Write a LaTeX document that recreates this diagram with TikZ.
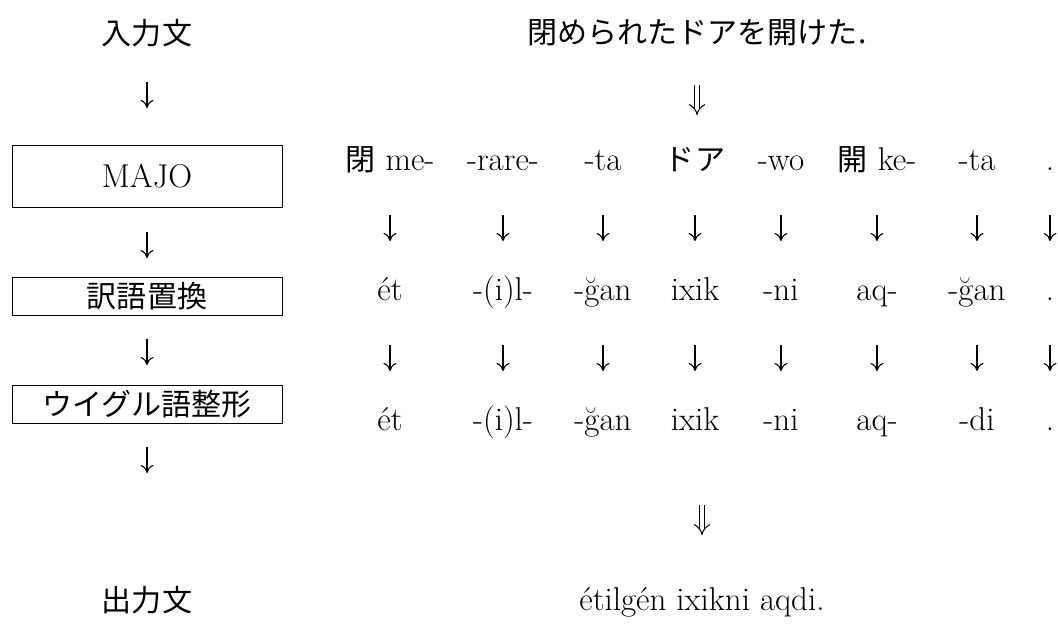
\documentclass[tikz,border=0pt]{standalone}
\usepackage{fontspec}
\newfontfamily\jpfont[Scale=0.91]{Noto Sans CJK JP}
\usetikzlibrary{arrows.meta}

\begin{document}
\begin{tikzpicture}
[
    x=0.5pt, y=-0.5pt,
    every node/.style={font=\fontsize{16.5}{19}\selectfont, inner sep=0pt},
    tok/.style={text height=11pt, text depth=3.5pt},
    stage/.style={draw, line width=0.5pt, minimum width=135pt},
    down/.style={line width=0.55pt, -{To[length=4pt, width=6.5pt]}},
    bigdown/.style={double, double distance=2.4pt, line width=0.5pt, -{Implies}},
]
\useasboundingbox (0,0) rectangle (1058,627);

\node (in) at (147,33) {\jpfont 入力文};
\node [stage, minimum height=31pt] (majo) at (147,176) {MAJO};
\node [stage, minimum height=19pt] (subst) at (147,296) {\jpfont 訳語置換};
\node [stage, minimum height=19pt] (shape) at (147,404) {\jpfont ウイグル語整形};
\node (out) at (147,600) {\jpfont 出力文};

\draw [down, shorten <=24.5pt, shorten >=34pt] (in.center) -- (majo.center);
\draw [down, shorten <=28pt, shorten >=19pt] (majo.center) -- (subst.center);
\draw [down, shorten <=21.5pt, shorten >=19.5pt] (subst.center) -- (shape.center);
\draw [down, shorten <=21.5pt, shorten >=63.5pt] (shape.center) -- (out.center);

\node (sent) at (697,33) {\jpfont 閉められたドアを開けた.};

\foreach \x/\t [count=\i] in {390/{{\jpfont 閉} me-}, 503/-rare-, 603/-ta,
    695/{\jpfont ドア}, 781/-wo, 877/{{\jpfont 開} ke-}, 977/-ta, 1050/.}
  \node [tok] (a\i) at (\x,163) {\t};
\foreach \x/\t [count=\i] in {390/ét, 503/-(i)l-, 603/-ğan, 695/ixik,
    781/-ni, 877/aq-, 977/-ğan, 1050/.}
  \node [tok] (b\i) at (\x,293) {\t};
\foreach \x/\t [count=\i] in {390/ét, 503/-(i)l-, 603/-ğan, 695/ixik,
    781/-ni, 877/aq-, 977/-di, 1050/.}
  \node [tok] (c\i) at (\x,423) {\t};

\foreach \i in {1,...,8}
{
  \draw [down, shorten <=26pt, shorten >=26pt] (a\i.center) -- (b\i.center);
  \draw [down, shorten <=26pt, shorten >=26pt] (b\i.center) -- (c\i.center);
}

\node [tok] (final) at (702,603) {étilgén ixikni aqdi.};

\draw [bigdown, shorten <=26pt, shorten >=24pt] (sent.center) -- (sent.center |- a1.center);
\draw [bigdown, shorten <=41pt, shorten >=34pt] (final.center |- c1.center) -- (final.center);
\end{tikzpicture}
\end{document}
